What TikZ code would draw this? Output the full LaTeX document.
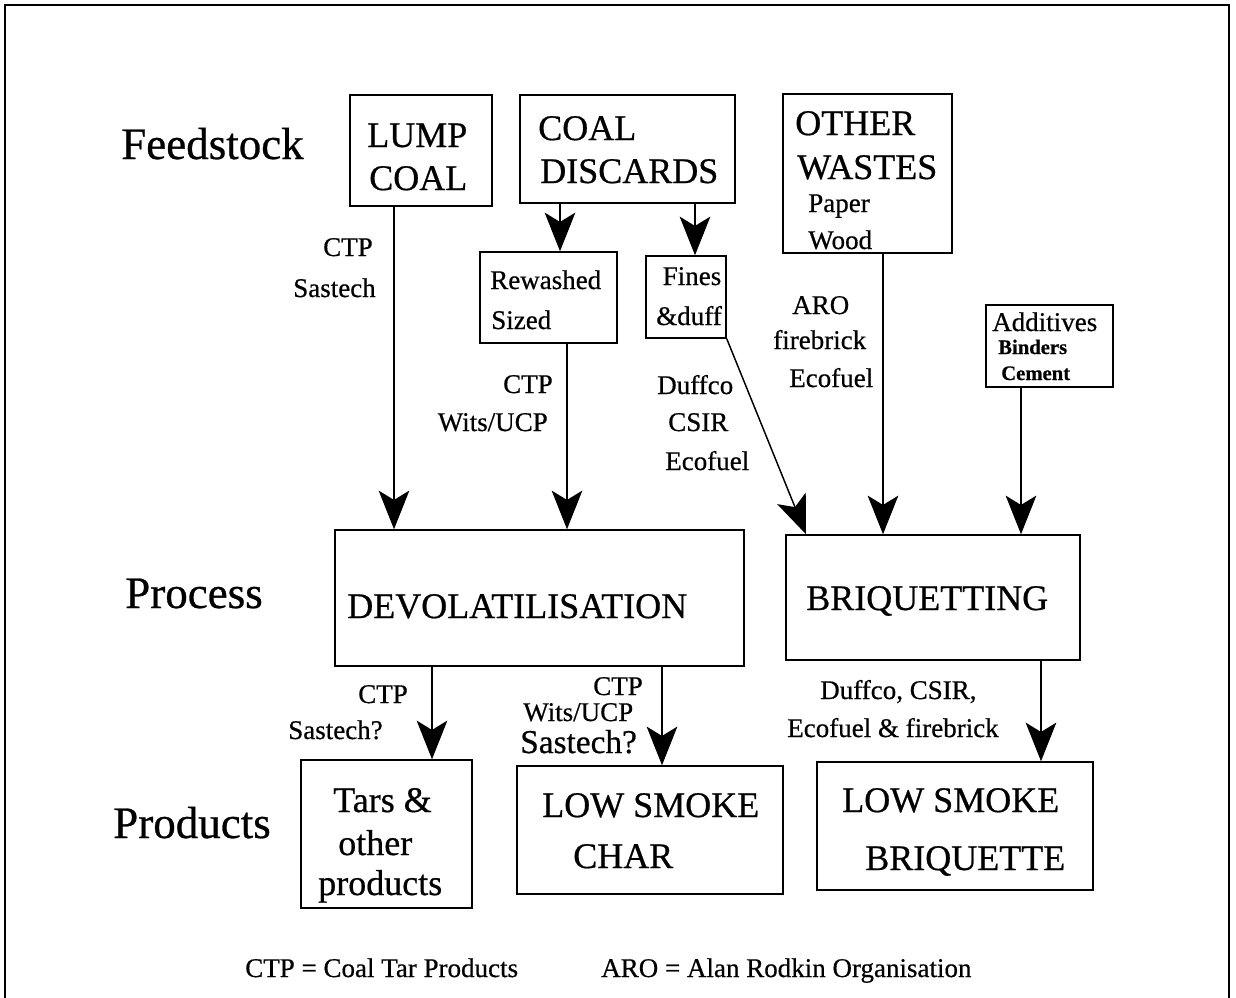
\documentclass[tikz,border=0pt]{standalone}
\usepackage{fontspec}
\setmainfont{Liberation Serif}[FakeBold=0.6]
\usetikzlibrary{arrows.meta}
\newcommand{\fbig}{\fontsize{27}{30}\selectfont}
\newcommand{\flab}{\fontsize{20.25}{24}\selectfont}
\newcommand{\frow}{\fontsize{33.75}{38}\selectfont}
\newcommand{\fsml}{\fontsize{15.5}{17}\selectfont\bfseries}
\newcommand{\fmid}{\fontsize{25}{28}\selectfont}
\begin{document}
\begin{tikzpicture}[x=0.75pt,y=-0.75pt,
  bx/.style 2 args={draw,line width=1.1pt,inner sep=0,minimum width=#1*0.75pt,minimum height=#2*0.75pt},
  tw/.style={inner sep=0,anchor=base west},
  te/.style={inner sep=0,anchor=base east},
  tc/.style={inner sep=0,anchor=base},
  arr/.style={line width=1.1pt,-{Stealth[length=29pt,width=23pt,inset=7pt]}}]
\useasboundingbox (0,0) rectangle (1236,997);
\draw[line width=2.2pt] (5,1002) -- (5,5) -- (1229,5) -- (1229,1002);

% row labels
\node[tw,font=\frow] (rowF) at (121,159) {Feedstock};
\node[tw,font=\frow] (rowP) at (125,608) {Process};
\node[tw,font=\frow] (rowR) at (113,838) {Products};

% boxes
\node[bx={142}{111}] (lump) at (421,150.5) {};
\node[bx={215}{108}] (disc) at (627.5,149) {};
\node[bx={169}{159}] (other) at (867.5,173.5) {};
\node[bx={137}{91}] (rew) at (548.5,297.5) {};
\node[bx={80}{82}] (fines) at (686,297) {};
\node[bx={127}{82}] (add) at (1049.5,346) {};
\node[bx={409}{136}] (devol) at (539.5,598) {};
\node[bx={294}{125}] (briq) at (933,597.5) {};
\node[bx={171}{148}] (tars) at (386.5,834) {};
\node[bx={266}{128}] (char) at (650,830) {};
\node[bx={276}{128}] (bqt) at (955,826) {};

% box texts
\node[tw,font=\fbig] (lump1) at (367,147) {LUMP};
\node[tw,font=\fbig] (lump2) at (369,190) {COAL};
\node[tw,font=\fbig] (disc1) at (538,140) {COAL};
\node[tw,font=\fbig] (disc2) at (540,183) {DISCARDS};
\node[tw,font=\fbig] (oth1) at (795,135) {OTHER};
\node[tw,font=\fbig] (oth2) at (797,179) {WASTES};
\node[tw,font=\flab] (oth3) at (808,212) {Paper};
\node[tw,font=\flab] (oth4) at (808,249) {Wood};
\node[tw,font=\flab] (rew1) at (490,289) {Rewashed};
\node[tw,font=\flab] (rew2) at (491,329) {Sized};
\node[tc,font=\flab] (fin1) at (692,285) {Fines};
\node[tc,font=\flab] (fin2) at (689,325) {\&duff};
\node[tw,font=\flab] (add1) at (992,331) {Additives};
\node[tw,font=\fsml] (add2) at (998,354) {Binders};
\node[tw,font=\fsml] (add3) at (1001,380) {Cement};
\node[tw,font=\fbig] (dev1) at (347,618) {DEVOLATILISATION};
\node[tw,font=\fbig] (brq1) at (806,610) {BRIQUETTING};
\node[tw,font=\fbig] (tar1) at (333,812) {Tars \&};
\node[tw,font=\fbig] (tar2) at (338,855) {other};
\node[tw,font=\fbig] (tar3) at (318,895) {products};
\node[tw,font=\fbig] (chr1) at (542,817) {LOW SMOKE};
\node[tw,font=\fbig] (chr2) at (573,868) {CHAR};
\node[tw,font=\fbig] (bqt1) at (842,812) {LOW SMOKE};
\node[tw,font=\fbig] (bqt2) at (865,870) {BRIQUETTE};

% connector labels
\node[te,font=\flab] (l1) at (373,256) {CTP};
\node[te,font=\flab] (l2) at (376,297) {Sastech};
\node[te,font=\flab] (l3) at (553,393) {CTP};
\node[te,font=\flab] (l4) at (548,431) {Wits/UCP};
\node[tw,font=\flab] (l5) at (657,394) {Duffco};
\node[tw,font=\flab] (l6) at (668,431) {CSIR};
\node[tw,font=\flab] (l7) at (665,470) {Ecofuel};
\node[tw,font=\flab] (l8) at (792,314) {ARO};
\node[tw,font=\flab] (l9) at (773,349) {firebrick};
\node[tw,font=\flab] (l10) at (789,387) {Ecofuel};
\node[tw,font=\flab] (l11) at (358,703) {CTP};
\node[tw,font=\flab] (l12) at (288,739) {Sastech?};
\node[tw,font=\flab] (l13) at (593,695) {CTP};
\node[tw,font=\flab] (l14) at (523,721) {Wits/UCP};
\node[tw,font=\fmid] (l15) at (520,753) {Sastech?};
\node[tw,font=\flab] (l16) at (820,699) {Duffco, CSIR,};
\node[tw,font=\flab] (l17) at (787,737) {Ecofuel \& firebrick};

% footer
\node[tw,font=\flab] (f1) at (245,977) {CTP = Coal Tar Products};
\node[tw,font=\flab] (f2) at (601,977) {ARO = Alan Rodkin Organisation};

% connectors
\draw[arr] (lump.south -| 394,0) -- (devol.north -| 394,0);
\draw[arr] (disc.south -| 560,0) -- (rew.north -| 560,0);
\draw[arr] (disc.south -| 695,0) -- (fines.north -| 695,0);
\draw[arr] (rew.south -| 567,0) -- (devol.north -| 567,0);
\draw[arr] (fines.south east) -- (briq.north -| 806,0);
\draw[arr] (other.south -| 883,0) -- (briq.north -| 883,0);
\draw[arr] (add.south -| 1021,0) -- (briq.north -| 1021,0);
\draw[arr] (devol.south -| 432,0) -- (tars.north -| 432,0);
\draw[arr] (devol.south -| 662,0) -- (char.north -| 662,0);
\draw[arr] (briq.south -| 1041,0) -- (bqt.north -| 1041,0);
\end{tikzpicture}
\end{document}
